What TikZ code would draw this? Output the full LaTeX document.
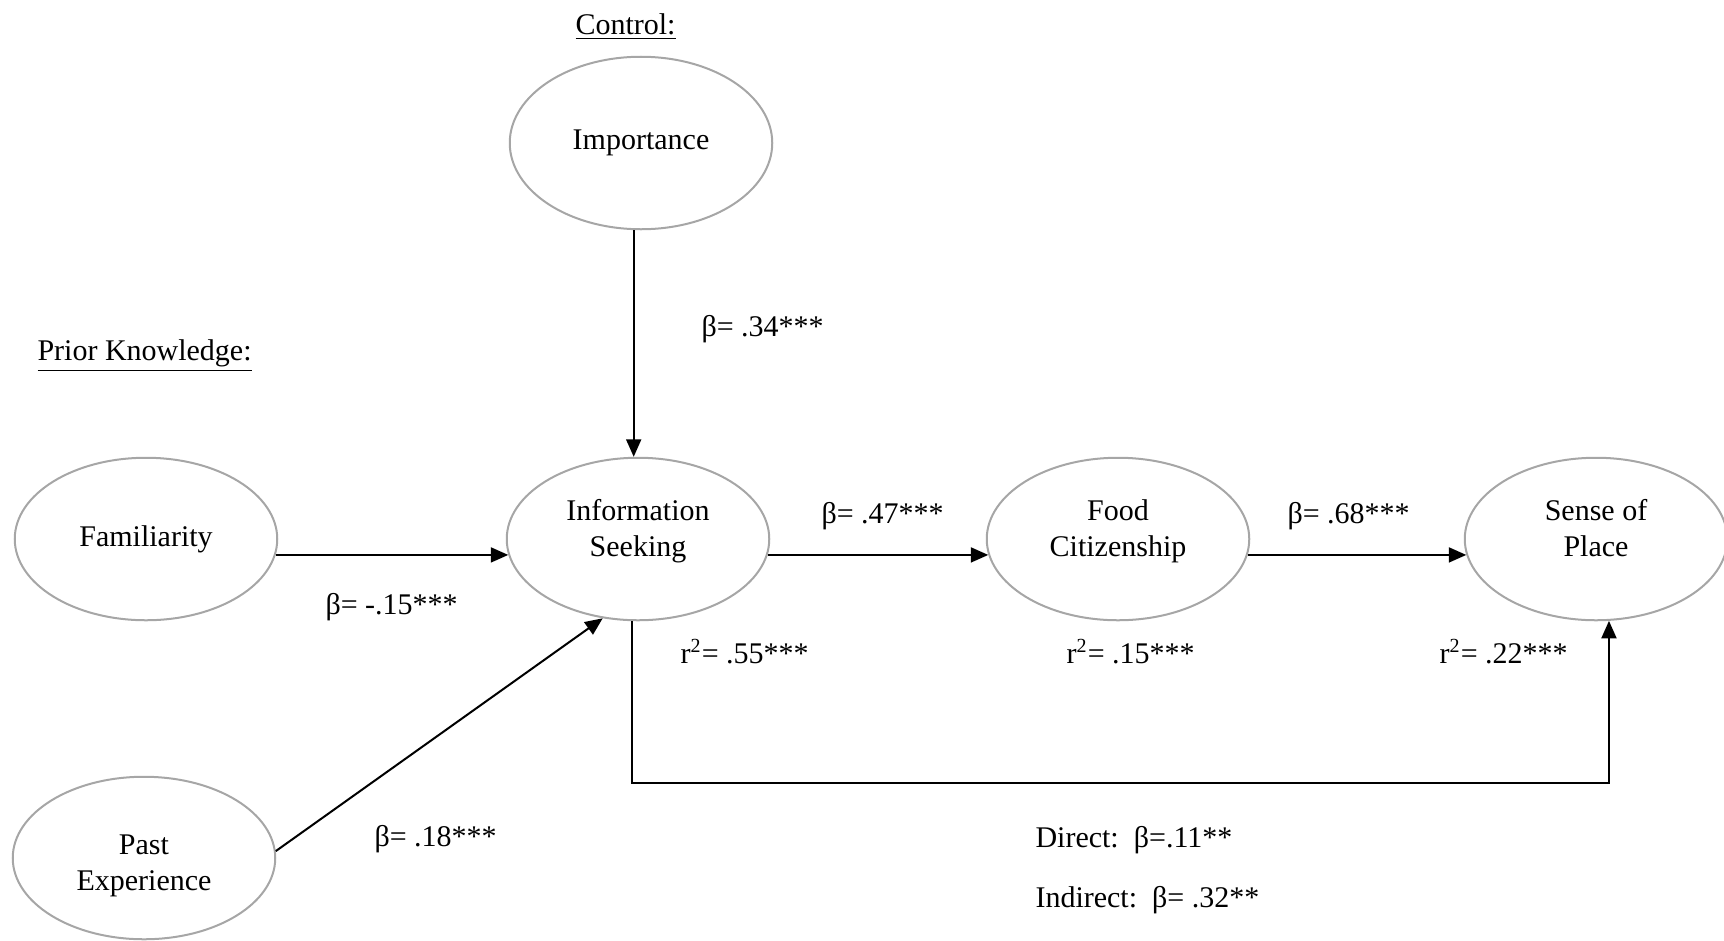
\documentclass[tikz,border=0pt]{standalone}
\usepackage{fontspec}
\setmainfont{Liberation Serif}
\usepackage{tikz}
\usetikzlibrary{arrows.meta, shapes.geometric}
\definecolor{ringgray}{RGB}{166,166,166}

\begin{document}
\begin{tikzpicture}[>={Triangle[length=7pt,width=6pt]}, x=0.4pt, y=-0.4pt,
  font=\fontsize{12}{14.5}\selectfont,
  var/.style={ellipse, draw=ringgray, line width=0.8pt, inner sep=0pt,
    minimum width=105pt, minimum height=65pt, align=center},
  twoline/.style={text height=23pt, text depth=9pt},
  path/.style={->, line width=0.8pt},
  coef/.style={anchor=west, inner sep=0pt}]
\useasboundingbox (0,0) rectangle (1724,940);

% headings
\node[coef] (ctrl) at (575,27) {\underline{Control:}};
\node[coef] (prior) at (37,356) {\underline{Prior Knowledge:}};

% latent variables
\node[var, minimum height=69pt] (imp) at (641,143) {Importance};
\node[var] (fam) at (146,539) {Familiarity};
\node[var, text height=29pt, text depth=3pt] (past) at (144,858) {Past\\Experience};
\node[var, twoline] (info) at (638,539) {Information\\Seeking};
\node[var, twoline] (food) at (1118,539) {Food\\Citizenship};
\node[var, twoline] (sop) at (1596,539) {Sense of\\Place};

% paths
\coordinate (low) at (0,783);
\draw[path] (imp.south -| info.93) -- (info.93);
\draw[path] (fam.-7) -- (info.187);
\draw[path] (past.3) -- (info.246);
\draw[path] (info.-7) -- (food.187);
\draw[path] (food.-7) -- (sop.187);
\draw[path] (info.266) -- (info.266 |- low) -- (sop.279 |- low) -- (sop.279);

% coefficients
\node[coef] (b34) at (701,329) {β= .34***};
\node[coef] (b15) at (325,607) {β= -.15***};
\node[coef] (b18) at (374,839) {β= .18***};
\node[coef] (b47) at (821,516) {β= .47***};
\node[coef] (b68) at (1287,516) {β= .68***};
\node[coef] (r55) at (680,652) {r\textsuperscript{2}= .55***};
\node[coef] (r15) at (1066,652) {r\textsuperscript{2}= .15***};
\node[coef] (r22) at (1439,652) {r\textsuperscript{2}= .22***};
\node[coef] (dir) at (1035,840) {Direct:\ \ β=.11**};
\node[coef] (ind) at (1035,900) {Indirect:\ \ β= .32**};
\end{tikzpicture}
\end{document}
